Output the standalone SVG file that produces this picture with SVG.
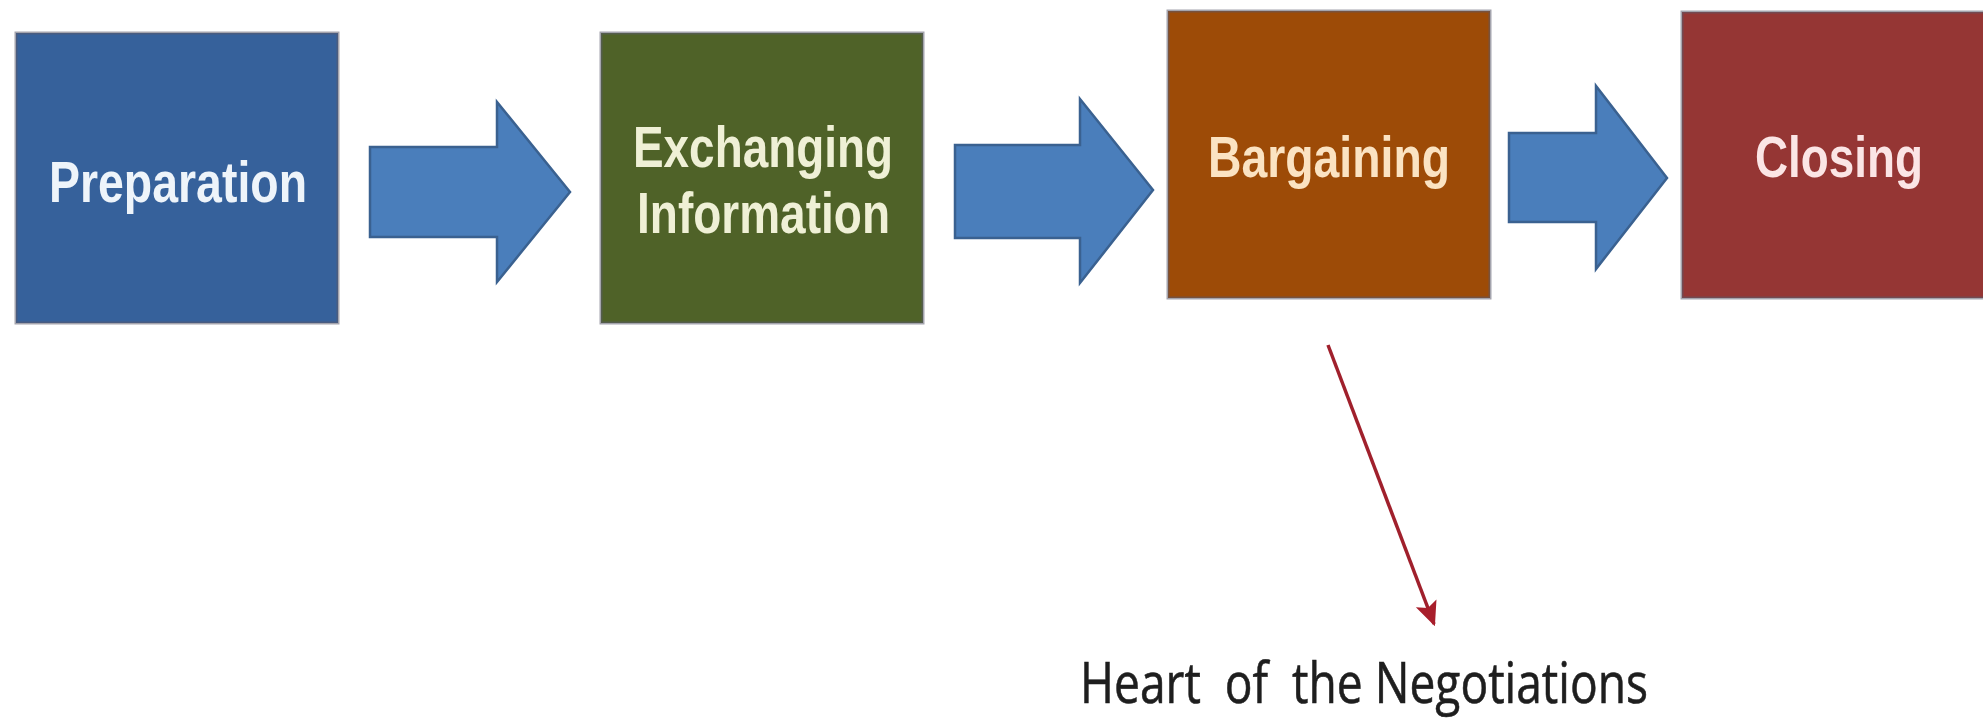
<svg xmlns="http://www.w3.org/2000/svg" width="1983" height="718" viewBox="0 0 1983 718">
<defs>
<style>
.box{stroke:#5a5a6a;stroke-opacity:0.55;stroke-width:3}
.lbl{font-family:"Liberation Sans",Arial,sans-serif;font-weight:bold;font-size:57px;text-anchor:start}
.blk{fill:#4a7ebb;stroke:#3a6190;stroke-width:2.5;stroke-linejoin:miter}
.note{font-family:"Open Sans","Liberation Sans",sans-serif;font-size:57px;fill:#1e1e1e;stroke:#1e1e1e;stroke-width:0.6}
</style>
<marker id="redhead" viewBox="0 0 10 10" refX="9" refY="5" markerWidth="7" markerHeight="7" orient="auto" markerUnits="strokeWidth">
<path d="M0,0.5 L10,5 L0,9.5 L2,5 Z" fill="#a81e2b"/>
</marker>
</defs>
<rect width="1983" height="718" fill="#ffffff"/>

<g id="node-preparation">
<rect class="box" x="16" y="33" width="322" height="290" fill="#36619b"/>
<text class="lbl" x="49" y="202" fill="#eef4fa" textLength="258" lengthAdjust="spacingAndGlyphs">Preparation</text>
</g>

<g id="node-exchanging">
<rect class="box" x="601" y="33" width="322" height="290" fill="#4f6228"/>
<text class="lbl" x="633" y="167" fill="#eff0d6" textLength="260" lengthAdjust="spacingAndGlyphs">Exchanging</text>
<text class="lbl" x="637" y="233" fill="#eff0d6" textLength="253" lengthAdjust="spacingAndGlyphs">Information</text>
</g>

<g id="node-bargaining">
<rect class="box" x="1168" y="11" width="322" height="287" fill="#9d4b07"/>
<text class="lbl" x="1208" y="177" fill="#fbe3c2" textLength="242" lengthAdjust="spacingAndGlyphs">Bargaining</text>
</g>

<g id="node-closing">
<rect class="box" x="1682" y="12" width="310" height="286" fill="#953634"/>
<text class="lbl" x="1755" y="177" fill="#fbe5e5" textLength="168" lengthAdjust="spacingAndGlyphs">Closing</text>
</g>

<g id="node-heart">
<text class="note" x="1080" y="703" xml:space="preserve" textLength="568" lengthAdjust="spacingAndGlyphs">Heart  of  the Negotiations</text>
</g>

<g id="connectors">
<polygon class="blk" points="370,147 497,147 497,102 570,192 497,282 497,237 370,237"/>
<polygon class="blk" points="955,145 1080,145 1080,99 1153,190 1080,283 1080,238 955,238"/>
<polygon class="blk" points="1509,133 1596,133 1596,86 1667,178 1596,269 1596,222 1509,222"/>
<line x1="1328" y1="345" x2="1434" y2="624" stroke="#a0202c" stroke-width="3.5" marker-end="url(#redhead)"/>
</g>
</svg>
